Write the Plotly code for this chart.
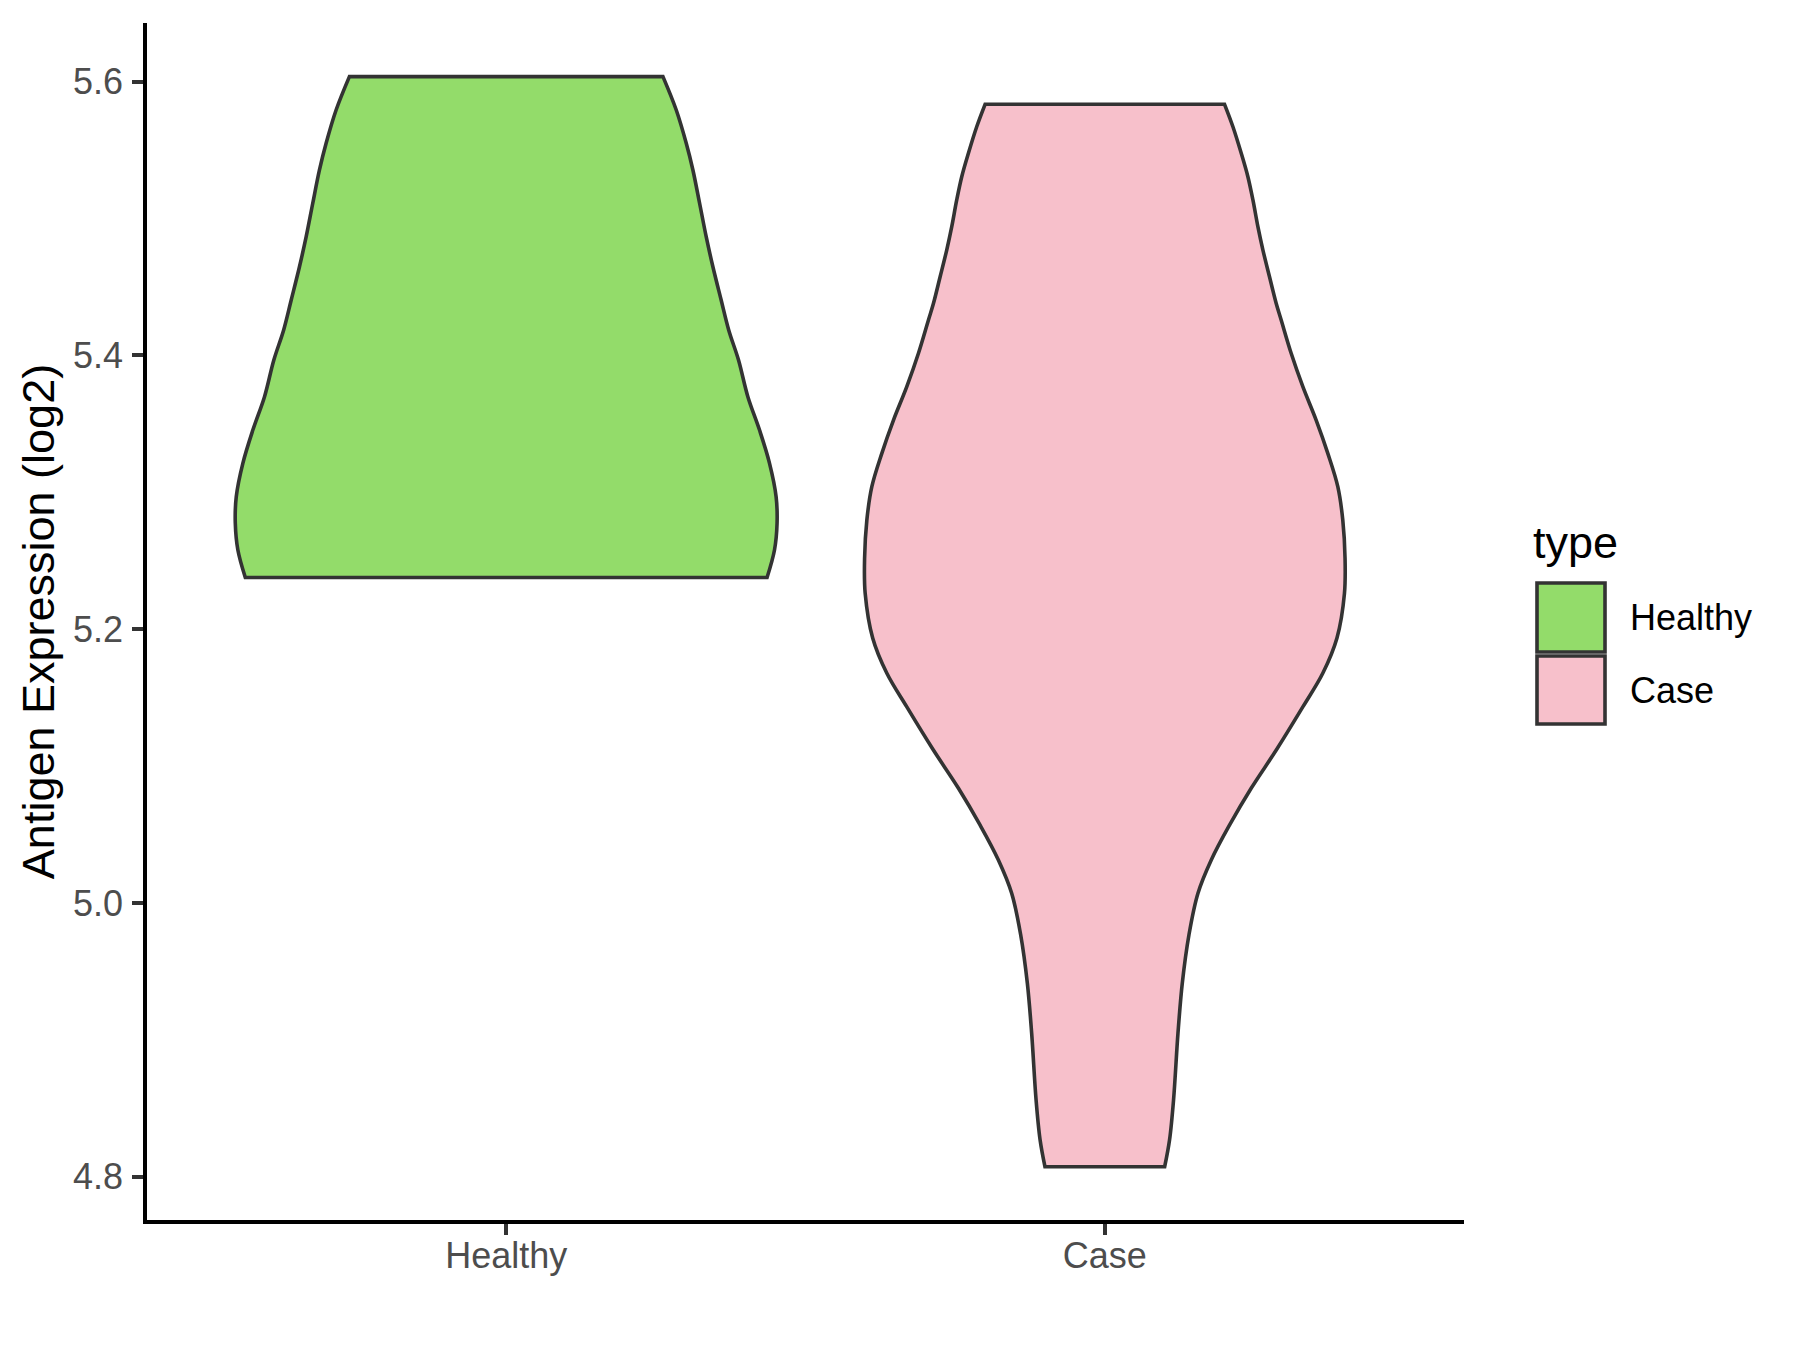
import plotly.graph_objects as go
import numpy as np

# ---- data ----
categories = ["Healthy", "Case"]
fill_colors = ["#93DC6A", "#F7C0CB"]

# violin outlines: expression value (log2) and half-width (in category units)
healthy_y = [5.6037, 5.5793, 5.5550, 5.5355, 5.5112, 5.4868, 5.4648, 5.4405,
             5.4186, 5.3967, 5.3699, 5.3455, 5.3212, 5.2968, 5.2774, 5.2579,
             5.2378]
healthy_w = [0.2619, 0.2841, 0.3008, 0.3119, 0.3231, 0.3341, 0.3453, 0.3591,
             0.3717, 0.3881, 0.4037, 0.4232, 0.4399, 0.4509, 0.4525, 0.4482,
             0.4358]

case_y = [5.5835, 5.5671, 5.5477, 5.5306, 5.5136, 5.4941, 5.4770, 5.4575,
          5.4381, 5.4259, 5.4016, 5.3772, 5.3528, 5.3285, 5.3041, 5.2798,
          5.2518, 5.2262, 5.1936, 5.1680, 5.1434, 5.1117, 5.0838, 5.0570,
          5.0314, 5.0071, 4.9766, 4.9413, 4.9048, 4.8560, 4.8268, 4.8073]
case_w = [0.2000, 0.2140, 0.2279, 0.2390, 0.2474, 0.2557, 0.2641, 0.2751,
          0.2862, 0.2946, 0.3113, 0.3308, 0.3530, 0.3725, 0.3892, 0.3975,
          0.4013, 0.4003, 0.3878, 0.3643, 0.3310, 0.2864, 0.2445, 0.2085,
          0.1778, 0.1556, 0.1405, 0.1294, 0.1222, 0.1148, 0.1081, 0.1000]

y_ticks = [4.8, 5.0, 5.2, 5.4, 5.6]
y_title = "Antigen Expression (log2)"
legend_title = "type"

# ---- layout constants (pixels, reference coordinates; page body adds 8px) ----
OFF = 8
W, H = 1800 - 2 * OFF, 1350 - 2 * OFF
L, R, T, B = 147 - OFF, 1464 - OFF, 23 - OFF, 1220 - OFF
FONT = "Liberation Sans, Arial, sans-serif"
OUTLINE = "#333333"
LW = 3.6

fig = go.Figure()

profiles = [(healthy_y, healthy_w), (case_y, case_w)]
for i, (cat, (ys, ws)) in enumerate(zip(categories, profiles)):
    c = i + 1
    ys = np.array(ys)
    ws = np.array(ws)
    rx = c + ws
    lx = (c - ws)[::-1]
    ly = ys[::-1]
    # duplicate the four corners so the flat top/bottom stay straight and sharp
    x = np.concatenate([[rx[0]], rx, [rx[-1]], [lx[0]], lx, [lx[-1]], [rx[0]]])
    y = np.concatenate([[ys[0]], ys, [ys[-1]], [ly[0]], ly, [ly[-1]], [ys[0]]])
    fig.add_trace(go.Scatter(
        x=x, y=y, mode="lines", fill="toself",
        fillcolor=fill_colors[i],
        line=dict(color=OUTLINE, width=LW, shape="spline", smoothing=1.0,
                  simplify=False),
        name=cat, showlegend=False, hoverinfo="skip",
    ))

# manual ggplot-style legend (positions given in reference pixels)
def px_x(p):
    return (p - OFF - L) / (R - L)

def px_y(p):
    return (B - (p - OFF)) / (B - T)

key_x0, key_x1 = 1537, 1605
key_rows = [(583, 652), (656, 724)]
shapes = []
annotations = []
annotations.append(dict(
    x=px_x(1531), y=px_y(542), xref="paper", yref="paper",
    text=legend_title, showarrow=False, xanchor="left", yanchor="middle",
    font=dict(family=FONT, size=45, color="black"),
))
for i, cat in enumerate(categories):
    y0, y1 = key_rows[i]
    shapes.append(dict(
        type="rect", xref="paper", yref="paper",
        x0=px_x(key_x0), x1=px_x(key_x1), y0=px_y(y1), y1=px_y(y0),
        fillcolor=fill_colors[i], line=dict(color=OUTLINE, width=LW),
    ))
    annotations.append(dict(
        x=px_x(1628), y=px_y((y0 + y1) / 2), xref="paper", yref="paper",
        text=cat, showarrow=False, xanchor="left", yanchor="middle",
        font=dict(family=FONT, size=36, color="black"),
    ))

y_top = 5.6 + (81.7 - 23) / 1368.75
y_bot = 4.8 - (1220 - 1176.7) / 1368.75

fig.update_layout(
    width=W, height=H,
    margin=dict(l=L, r=W - R, t=T, b=H - B, autoexpand=False),
    paper_bgcolor="white", plot_bgcolor="white",
    font=dict(family=FONT),
    shapes=shapes, annotations=annotations,
    showlegend=False,
    xaxis=dict(
        range=[0.4, 2.6], tickvals=[1, 2], ticktext=categories,
        showgrid=False, zeroline=False,
        showline=True, linecolor="black", linewidth=LW,
        ticks="outside", ticklen=11, tickwidth=LW, tickcolor=OUTLINE,
        tickfont=dict(family=FONT, size=36, color="#4D4D4D"),
        ticklabelstandoff=-10,
        automargin=False,
    ),
    yaxis=dict(
        range=[y_bot, y_top], tickvals=y_ticks,
        ticktext=[f"{v:.1f}" for v in y_ticks],
        showgrid=False, zeroline=False,
        showline=True, linecolor="black", linewidth=LW,
        ticks="outside", ticklen=11, tickwidth=LW, tickcolor=OUTLINE,
        tickfont=dict(family=FONT, size=36, color="#4D4D4D"),
        ticklabelstandoff=2,
        title=dict(text=y_title, font=dict(family=FONT, size=45, color="black"),
                   standoff=5),
        automargin=False,
    ),
)

fig.write_html("out.html")
